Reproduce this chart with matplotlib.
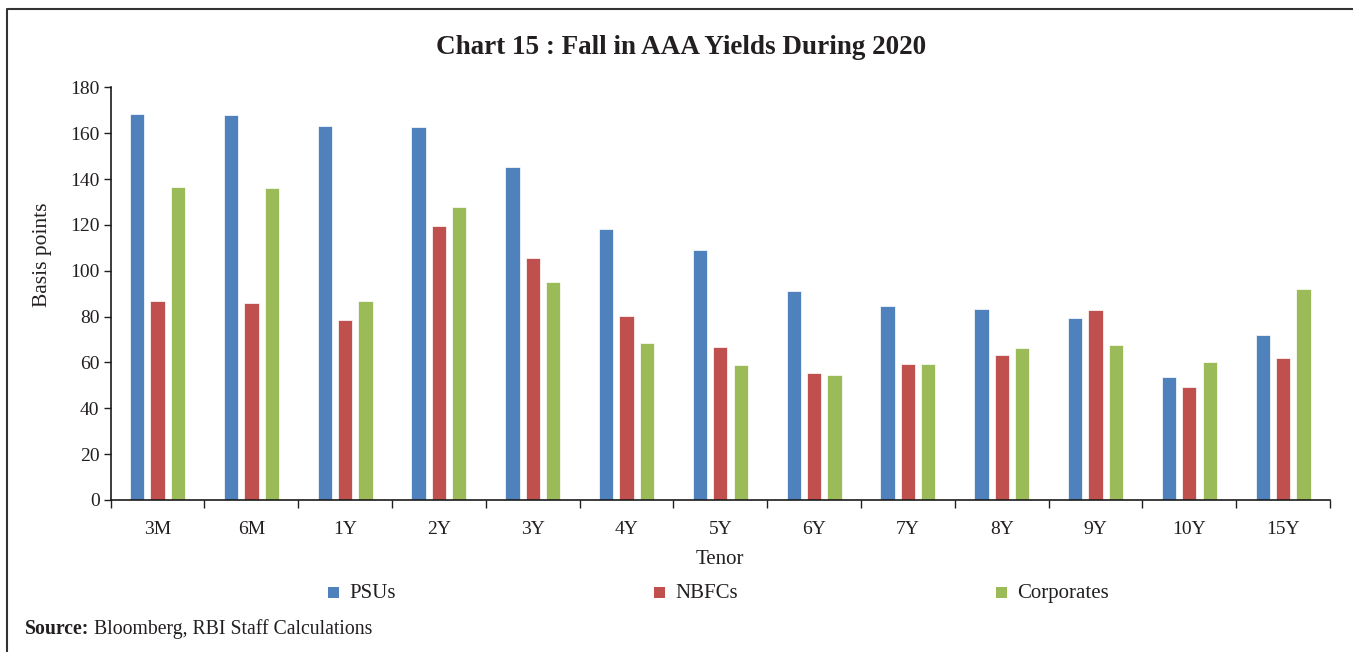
import matplotlib
matplotlib.use('Agg')
import matplotlib.pyplot as plt
import numpy as np
from matplotlib.lines import Line2D
from matplotlib.ticker import FixedLocator, NullFormatter

# --- Data (basis points fall in AAA yields) ---
tenors = ['3M', '6M', '1Y', '2Y', '3Y', '4Y', '5Y', '6Y', '7Y', '8Y', '9Y', '10Y', '15Y']
psus = [168.2, 167.8, 163.0, 162.5, 145.2, 118.3, 108.9, 91.3, 84.5, 83.2, 79.2, 53.5, 72.0]
nbfcs = [86.6, 86.1, 78.7, 119.6, 105.4, 80.3, 66.9, 55.2, 59.5, 63.1, 82.9, 49.4, 61.9]
corporates = [136.5, 136.1, 86.9, 127.6, 95.2, 68.3, 58.9, 54.4, 59.5, 66.1, 67.8, 60.3, 91.9]
series_names = ['PSUs', 'NBFCs', 'Corporates']
yticks = [0, 20, 40, 60, 80, 100, 120, 140, 160, 180]

# --- Style ---
FONT = 'Liberation Serif'
TXT = '#231f20'
COLORS = ['#4f81bd', '#c0504d', '#9bbb59']
plt.rcParams['font.family'] = FONT

W, H = 1353, 652
fig = plt.figure(figsize=(W / 100, H / 100), dpi=100)
fig.patch.set_facecolor('white')
ax = fig.add_axes([110.7 / W, 1 - 500 / H, (1330 - 110.7) / W, (500 - 87.3) / H])
AX_H = 500 - 87.3

x = np.arange(len(tenors))
bw = 0.152
step = 0.217
for i, (vals, col) in enumerate(zip([psus, nbfcs, corporates], COLORS)):
    ax.bar(x + (i - 1) * step, vals, width=bw, color=col, edgecolor='white', linewidth=0.5, zorder=2)

ax.set_xlim(-0.5, len(tenors) - 0.5)
ax.set_ylim(0, 180)
ax.set_yticks(yticks)
ax.tick_params(axis='y', direction='out', length=5, width=1, labelsize=14, colors=TXT, pad=3)

# category boundaries as major ticks, labels on minor ticks at centres
ax.xaxis.set_major_locator(FixedLocator(np.arange(-0.5, len(tenors), 1.0)))
ax.xaxis.set_major_formatter(NullFormatter())
ax.xaxis.set_minor_locator(FixedLocator(x))
ax.set_xticklabels(tenors, minor=True)
ax.tick_params(axis='x', which='major', direction='out', length=6, width=1, colors=TXT)
ax.tick_params(axis='x', which='minor', length=0, labelsize=14, labelcolor=TXT, pad=15)

for s in ['top', 'right']:
    ax.spines[s].set_visible(False)
for s in ['left', 'bottom']:
    ax.spines[s].set_linewidth(1.2)
    ax.spines[s].set_color('#1a1a1a')

ax.set_xlabel('Tenor', fontsize=15, color=TXT, va='center')
ax.xaxis.set_label_coords(0.5, -(559 - 500) / AX_H)
ax.set_ylabel('Basis points', fontsize=15.5, color=TXT, va='center')
ax.yaxis.set_label_coords(-(110.7 - 42.7) / (1330 - 110.7), (500 - 255) / AX_H)

# --- Title ---
fig.text(681 / W, 1 - 47 / H, 'Chart 15 : Fall in AAA Yields During 2020', ha='center', va='center',
         fontsize=19.5, fontweight='bold', color=TXT)

# --- Legend (spread across the bottom) ---
leg_x = [328, 654, 996]
leg_y = 1 - 592 / H
for name, col, lx in zip(series_names, COLORS, leg_x):
    fig.patches.append(matplotlib.patches.Rectangle((lx / W, leg_y - 5.5 / H), 11 / W, 11 / H,
                                                   transform=fig.transFigure, facecolor=col,
                                                   edgecolor='none', figure=fig))
    fig.text((lx + 21) / W, 1 - 598 / H, name, ha='left', va='baseline', fontsize=15, color=TXT)

# --- Source note ---
fig.text(25 / W, 1 - 634 / H, 'Source:', ha='left', va='baseline', fontsize=14.2, fontweight='bold', color=TXT)
fig.text(94 / W, 1 - 634 / H, 'Bloomberg, RBI Staff Calculations', ha='left', va='baseline', fontsize=14.2, color=TXT)

# --- Outer frame (left and top only) ---
fx, fy = 6.5 / W, 1 - 8.5 / H
fig.add_artist(Line2D([fx, fx, 1], [0, fy, fy], transform=fig.transFigure, color='#333333', lw=1.5))

fig.savefig('out.png', dpi=100, facecolor='white')
